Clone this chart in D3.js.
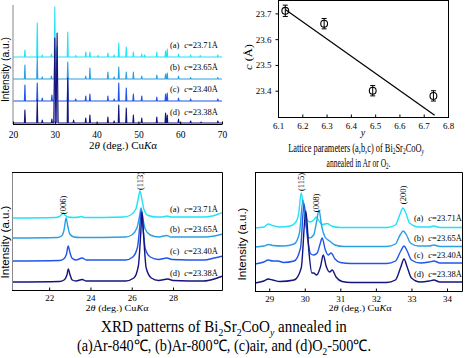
<!DOCTYPE html>
<html><head><meta charset="utf-8">
<script src="https://cdn.jsdelivr.net/npm/d3@7/dist/d3.min.js"></script>
<style>body{margin:0;background:#fff}svg{display:block}</style>
</head><body>
<svg id="c" width="465" height="358"></svg>
<script>
// ---------- DATA ----------
const seriesTags = ["(a)", "(b)", "(c)", "(d)"];
const cLabels = ["23.71", "23.65", "23.40", "23.38"];
const colors = ["#22e2f6", "#2a9fe4", "#1f55ea", "#14147c"];

// Panel 1: survey scans, peaks [2theta, height(a.u.), optional half-width]
const surveyA = [[22.85,7],[25.8,34],[27.0,2],[29.2,3],[30.0,50],[30.5,10],[33.1,25],[35.0,1.5],[37.4,5],[38.4,5],[40.3,1.5],[42.7,4],[44.2,2],[45.3,14],[47.1,10],[48.8,5],[50.8,3],[51.5,2],[54.4,5],[56.5,6],[56.9,8],[59.6,3],[62.5,2],[64.8,1.5],[69.0,2]];
const surveyB = [[22.85,14],[25.8,22],[27.0,2],[29.2,3],[30.0,30],[30.5,22],[33.1,17],[37.4,3],[38.4,11],[42.7,7],[44.2,2],[45.3,12],[47.1,7],[48.8,7],[50.8,3],[54.4,4],[56.5,5],[56.9,6],[59.6,3],[62.5,1.5],[69.0,1.5]];
const surveyC = [[22.85,16],[25.8,18],[27.0,3],[29.3,6],[30.0,30],[30.5,40],[33.1,21],[35.0,2],[37.4,5],[38.4,7],[42.7,5],[44.2,2],[45.3,18],[47.1,13],[48.8,7],[50.8,5],[54.4,4],[56.5,7],[56.9,8],[59.6,3],[62.5,2],[69.0,2]];
const surveyD = [[22.85,13],[25.8,23],[27.0,3],[29.3,4],[30.0,85,0.25],[30.55,90,0.25],[33.1,45],[34.5,3],[37.4,5],[38.4,8],[42.7,6],[44.2,2],[45.3,18],[47.1,15],[48.8,8],[50.8,5],[54.4,6],[56.5,10],[56.9,8],[59.6,4],[62.5,2],[65.0,1],[69.0,2]];
const offsets1 = [67, 45, 23, 1];
const ticks1 = [20, 30, 40, 50, 60, 70];

// Panel 2: lattice parameter c vs oxygen content y
const oxygenY = [6.13, 6.29, 6.49, 6.74];
const latticeC = [23.71, 23.66, 23.40, 23.38];
const latticeErr = [0.022, 0.02, 0.02, 0.02];
const fitY = [6.13, 6.745];
const fitC = [23.715, 23.305];
const ticks2x = [6.1, 6.2, 6.3, 6.4, 6.5, 6.6, 6.7, 6.8];
const ticks2y = [23.4, 23.5, 23.6, 23.7];

// Panel 3: 20-30 deg zoom, [2theta, intensity]
const zoomA1 = [[20.2,0],[22.3,0.5],[22.5,1.5],[22.62,4],[22.68,5],[22.76,3],[22.9,1],[23.2,0.5],[23.45,1],[23.55,1.5],[23.7,0.5],[25.6,1],[25.95,3],[26.2,9],[26.32,20],[26.4,27],[26.48,20],[26.6,8],[26.8,2.5],[27.2,1],[27.5,1],[27.7,2],[27.9,1],[29.5,1],[29.9,2],[30.2,4],[30.42,6]];
const zoomB1 = [[20.2,0],[22.4,0.5],[22.6,2],[22.72,8],[22.82,20],[22.9,12],[23.0,4],[23.2,1],[23.5,0.5],[25.7,1],[26.0,3],[26.25,10],[26.38,22],[26.45,30],[26.52,22],[26.65,9],[26.9,3],[27.3,1],[27.7,2.5],[27.9,1],[29.5,1],[30.0,2],[30.42,4]];
const zoomC1 = [[20.2,0],[22.5,0.5],[22.7,2],[22.84,7],[22.92,15],[23.0,9],[23.1,3],[23.3,1],[23.6,3],[23.8,1],[25.7,1],[26.05,4],[26.28,14],[26.4,38],[26.45,50],[26.52,38],[26.66,12],[26.9,4],[27.3,1.5],[27.7,3],[27.95,1.5],[29.5,1],[30.0,3],[30.42,5]];
const zoomD1 = [[20.2,0],[22.5,0.5],[22.72,2],[22.86,7],[22.93,13],[23.0,8],[23.12,2],[23.3,1],[23.6,2.5],[23.8,1],[25.7,1],[26.1,4],[26.32,16],[26.44,50],[26.5,70],[26.57,48],[26.7,14],[26.95,4],[27.3,1.5],[27.75,3],[28.0,1.5],[29.5,1],[30.0,3],[30.42,6]];
const offsets3 = [72, 52, 29, 8];
const ticks3 = [22, 24, 26, 28];

// Panel 4: 28.6-34.4 deg zoom
const zoomA2 = [[28.6,0],[28.85,1],[28.97,4],[29.1,2.5],[29.3,1],[29.6,2],[29.75,6],[29.83,15],[29.9,35],[29.97,20],[30.05,9],[30.15,6],[30.25,8],[30.32,11],[30.42,6],[30.5,3.5],[30.63,4.5],[30.75,2],[31.0,0.5],[32.3,0.5],[32.55,3],[32.68,14],[32.76,20],[32.84,15],[32.95,5],[33.2,1],[33.5,1],[33.63,2],[33.8,0.5],[34.45,0.5]];
const zoomB2 = [[28.6,0],[28.85,1],[28.98,2.5],[29.1,1.5],[29.4,1],[29.7,3],[29.85,14],[29.95,47],[30.03,22],[30.13,9],[30.25,12],[30.33,25],[30.4,37],[30.47,22],[30.57,10],[30.7,6],[30.85,2],[31.1,0.5],[32.3,0.5],[32.55,3],[32.68,12],[32.77,16],[32.86,12],[32.97,4],[33.2,1],[33.5,1],[33.63,2],[33.8,0.5],[34.45,0.5]];
const zoomC2 = [[28.6,0],[28.85,2],[28.97,4],[29.1,3],[29.25,3],[29.4,1.5],[29.7,3],[29.88,16],[29.98,60],[30.07,28],[30.17,10],[30.25,9],[30.35,11],[30.43,20],[30.49,26],[30.57,15],[30.66,9],[30.74,11],[30.85,5],[31.0,1.5],[31.3,0.5],[32.3,0.5],[32.55,3],[32.7,13],[32.79,18],[32.88,13],[33.0,4],[33.25,1],[33.5,2],[33.63,3],[33.8,1],[34.45,1]];
const zoomD2 = [[28.6,0],[28.85,2],[28.97,4],[29.1,3],[29.3,1.5],[29.7,3],[29.9,15],[30.03,72],[30.12,30],[30.2,10],[30.25,10],[30.33,8],[30.44,16],[30.52,28],[30.6,17],[30.7,11],[30.77,13],[30.88,6],[31.05,1.5],[31.3,0.5],[32.3,0.5],[32.55,3],[32.7,16],[32.79,24],[32.88,16],[33.0,5],[33.25,1],[33.5,2],[33.63,3],[33.8,1],[34.45,1]];
const offsets4 = [63, 44, 27, 8];
const ticks4 = [29, 30, 31, 32, 33, 34];

// ---------- DRAWING ----------
const SERIF = '"Liberation Serif","Times New Roman",serif';
const SANS = '"Liberation Sans",Arial,sans-serif';
const svg = d3.select('#c');

function rich(parent, parts, opts) {
  const t = parent.append('text').attr('font-family', opts.family || SERIF)
    .attr('font-size', opts.size).attr('fill', '#000').attr('text-anchor', opts.anchor || 'start');
  parts.forEach(p => {
    const o = typeof p === 'string' ? {t: p} : p;
    const s = t.append('tspan').text(o.t);
    if (o.i) s.attr('font-style', 'italic');
    if (o.sub) s.attr('font-size', opts.size * 0.65).attr('dy', opts.size * 0.22);
    if (o.up) s.attr('dy', -opts.size * 0.22);
  });
  return t;
}
// place text centered at (cx, y) squeezed to width w, optional rotation
function placeFit(parts, opts, cx, y, w, rot) {
  const g = svg.append('g');
  const t = rich(g, parts, Object.assign({anchor: 'middle'}, opts));
  const len = t.node().getComputedTextLength();
  const s = w ? w / len : 1;
  g.attr('transform', `translate(${cx},${y})` + (rot ? ` rotate(${rot})` : '') + ` scale(${s},1)`);
  return g;
}
function styleAxis(g, size) {
  g.selectAll('text').attr('font-family', SERIF).attr('font-size', size).attr('fill', '#000');
  g.selectAll('line').attr('stroke', '#000');
  g.select('.domain').remove();
}
const thetaTitle = ["2", {t: "θ", i: true}, " (deg.) Cu", {t: "K", i: true}, "α"];
function cLabel(i) { return [{t: "c", i: true}, "=" + cLabels[i] + "Å"]; }

// ===== Panel 1 =====
const x1 = d3.scaleLinear().domain([20, 70]).range([13, 222]);
const y1 = d3.scaleLinear().domain([0, 119]).range([124, 5]);
const surveys = [surveyA, surveyB, surveyC, surveyD];
const line1 = d3.line().x(d => x1(d[0])).y(d => d[1]);
surveys.forEach((pk, i) => {
  const pts = [[20, y1(offsets1[i])]];
  pk.slice().sort((a, b) => a[0] - b[0]).forEach(p => {
    const w = p[2] || 0.13;
    pts.push([p[0] - w, y1(offsets1[i])], [p[0], y1(offsets1[i] + p[1])], [p[0] + w, y1(offsets1[i])]);
  });
  pts.push([70, y1(offsets1[i])]);
  svg.append('path').attr('d', line1(pts))
    .attr('fill', i === 3 ? '#a9a9e8' : 'none')
    .attr('stroke', colors[i]).attr('stroke-width', 1.1).attr('stroke-linejoin', 'round');
});
svg.append('line').attr('x1', 13).attr('x2', 13).attr('y1', 5).attr('y2', 124).attr('stroke', '#999').attr('stroke-width', 1.2);
svg.append('line').attr('x1', 13).attr('x2', 222).attr('y1', 124.5).attr('y2', 124.5).attr('stroke', '#000');
const ax1 = svg.append('g').attr('transform', 'translate(0,124.5)')
  .call(d3.axisBottom(x1).tickValues(ticks1).tickFormat(d3.format('d')).tickSizeInner(-3).tickSizeOuter(0).tickPadding(7));
styleAxis(ax1, 9.5);
placeFit(thetaTitle, {size: 9.5}, 123, 149, 68);
placeFit(["Intensity (a.u.)"], {size: 10, family: SANS}, 8.5, 69.5, 65, -90);
const lab1 = [48, 70, 92, 115];
lab1.forEach((yy, i) => {
  rich(svg, [seriesTags[i]], {size: 8.5}).attr('x', 170).attr('y', yy);
  rich(svg, cLabel(i), {size: 8.5, anchor: 'end'}).attr('x', 218).attr('y', yy);
});

// ===== Panel 2 =====
const x2 = d3.scaleLinear().domain([6.1, 6.8]).range([278, 448]);
const y2 = d3.scaleLinear().domain([23.3, 23.75]).range([116.5, 0.5]);
svg.append('rect').attr('x', 278.5).attr('y', 0.5).attr('width', 170).attr('height', 117)
  .attr('fill', 'none').attr('stroke', '#000');
const ax2x = svg.append('g').attr('transform', 'translate(0,117.5)')
  .call(d3.axisBottom(x2).tickValues(ticks2x).tickFormat(d3.format('.1f')).tickSizeInner(-3).tickSizeOuter(0).tickPadding(5));
styleAxis(ax2x, 9);
const ax2y = svg.append('g').attr('transform', 'translate(278.5,0)')
  .call(d3.axisLeft(y2).tickValues(ticks2y).tickFormat(d3.format('.1f')).tickSizeInner(3).tickSizeOuter(0).tickPadding(4));
styleAxis(ax2y, 9);
svg.append('line').attr('x1', x2(fitY[0])).attr('y1', y2(fitC[0])).attr('x2', x2(fitY[1])).attr('y2', y2(fitC[1]))
  .attr('stroke', '#000').attr('stroke-width', 1.2);
oxygenY.forEach((v, i) => {
  const cx = x2(v), cy = y2(latticeC[i]);
  const top = y2(latticeC[i] + latticeErr[i]), bot = y2(latticeC[i] - latticeErr[i]);
  svg.append('line').attr('x1', cx).attr('x2', cx).attr('y1', top).attr('y2', bot).attr('stroke', '#000');
  svg.append('line').attr('x1', cx - 2.5).attr('x2', cx + 2.5).attr('y1', top).attr('y2', top).attr('stroke', '#000');
  svg.append('line').attr('x1', cx - 2.5).attr('x2', cx + 2.5).attr('y1', bot).attr('y2', bot).attr('stroke', '#000');
  svg.append('circle').attr('cx', cx).attr('cy', cy).attr('r', 3.4).attr('fill', 'none').attr('stroke', '#000').attr('stroke-width', 1.1);
});
rich(svg, [{t: "y", i: true}], {size: 10, anchor: 'middle'}).attr('x', 363).attr('y', 136);
placeFit([{t: "c", i: true}, " (Å)"], {size: 9.5}, 252, 57, 26, -90);
placeFit(["Lattice parameters (a,b,c) of  Bi", {t: "2", sub: true}, {t: "Sr", up: true}, {t: "2", sub: true}, {t: "CoO", up: true}, {t: "y", sub: true, i: true}],
  {size: 11.5}, 356, 151.5, 136);
placeFit(["annealed in Ar or O", {t: "2", sub: true}, {t: ".", up: true}], {size: 11.5}, 358.5, 166.5, 64);

// ===== Panel 3 & 4 helper =====
function zoomPanel(cfg) {
  const x = d3.scaleLinear().domain(cfg.dom).range([cfg.L, cfg.R]);
  const y = d3.scaleLinear().domain([0, cfg.B - cfg.T]).range([cfg.B, cfg.T]);
  const clipId = 'clip' + cfg.L;
  svg.append('clipPath').attr('id', clipId).append('rect')
    .attr('x', cfg.L).attr('y', cfg.T).attr('width', cfg.R - cfg.L).attr('height', cfg.B - cfg.T);
  const line = d3.line().x(d => x(d[0])).curve(d3.curveMonotoneX);
  cfg.series.forEach((s, i) => {
    svg.append('path').attr('clip-path', `url(#${clipId})`)
      .attr('d', line.y(d => y(d[1] + cfg.offsets[i]))(s))
      .attr('fill', 'none').attr('stroke', colors[i]).attr('stroke-width', 1.4);
  });
  svg.append('line').attr('x1', cfg.L + 0.5).attr('x2', cfg.L + 0.5).attr('y1', cfg.T).attr('y2', cfg.B).attr('stroke', cfg.leftColor || '#000');
  svg.append('polyline').attr('points', `${cfg.L},${cfg.T + 0.5} ${cfg.R - 0.5},${cfg.T + 0.5} ${cfg.R - 0.5},${cfg.B + 0.5} ${cfg.L},${cfg.B + 0.5}`)
    .attr('fill', 'none').attr('stroke', '#000');
  const ax = svg.append('g').attr('transform', `translate(0,${cfg.B + 0.5})`)
    .call(d3.axisBottom(x).tickValues(cfg.ticks).tickFormat(d3.format('d')).tickSizeInner(-3).tickSizeOuter(0).tickPadding(4));
  styleAxis(ax, 9);
  cfg.labY.forEach((yy, i) => {
    rich(svg, [seriesTags[i]], {size: 8.5}).attr('x', cfg.tagX).attr('y', yy);
    rich(svg, cLabel(i), {size: 8.5, anchor: 'end'}).attr('x', cfg.cX).attr('y', yy);
  });
  cfg.peaks.forEach(p => {
    placeFit([p[0]], {size: 8.5}, x(p[1]) + 3, p[2], null, -90);
  });
  placeFit(thetaTitle, {size: 9}, cfg.titleX, 311, 63);
  placeFit(["Intensity (a.u.)"], {size: 10, family: SANS}, cfg.yTitleX, cfg.yTitleY, 73, -90);
}
zoomPanel({dom: [20.2, 30.42], L: 12, R: 223, T: 172, B: 290, series: [zoomA1, zoomB1, zoomC1, zoomD1], offsets: offsets3,
  ticks: ticks3, labY: [212, 232, 254, 276], tagX: 170, cX: 218, leftColor: '#888',
  peaks: [["(006)", 22.68, 205], ["(113)", 26.4, 181]], titleX: 117, yTitleX: 8.5, yTitleY: 242});
zoomPanel({dom: [28.6, 34.45], L: 255, R: 463, T: 172, B: 291, series: [zoomA2, zoomB2, zoomC2, zoomD2], offsets: offsets4,
  ticks: ticks4, labY: [221, 241, 258, 277], tagX: 414, cX: 462,
  peaks: [["(115)", 29.9, 182], ["(008)", 30.32, 203], ["(200)", 32.76, 195]], titleX: 360, yTitleX: 246, yTitleY: 244});

// ===== Bottom caption =====
placeFit(["XRD patterns of Bi", {t: "2", sub: true}, {t: "Sr", up: true}, {t: "2", sub: true}, {t: "CoO", up: true}, {t: "y", sub: true, i: true}, {t: " annealed in", up: true}],
  {size: 16}, 224, 332, 246);
placeFit(["(a)Ar-840℃, (b)Ar-800℃, (c)air, and (d)O", {t: "2", sub: true}, {t: "-500℃.", up: true}],
  {size: 16}, 224, 351, 295);
</script>
</body></html>
